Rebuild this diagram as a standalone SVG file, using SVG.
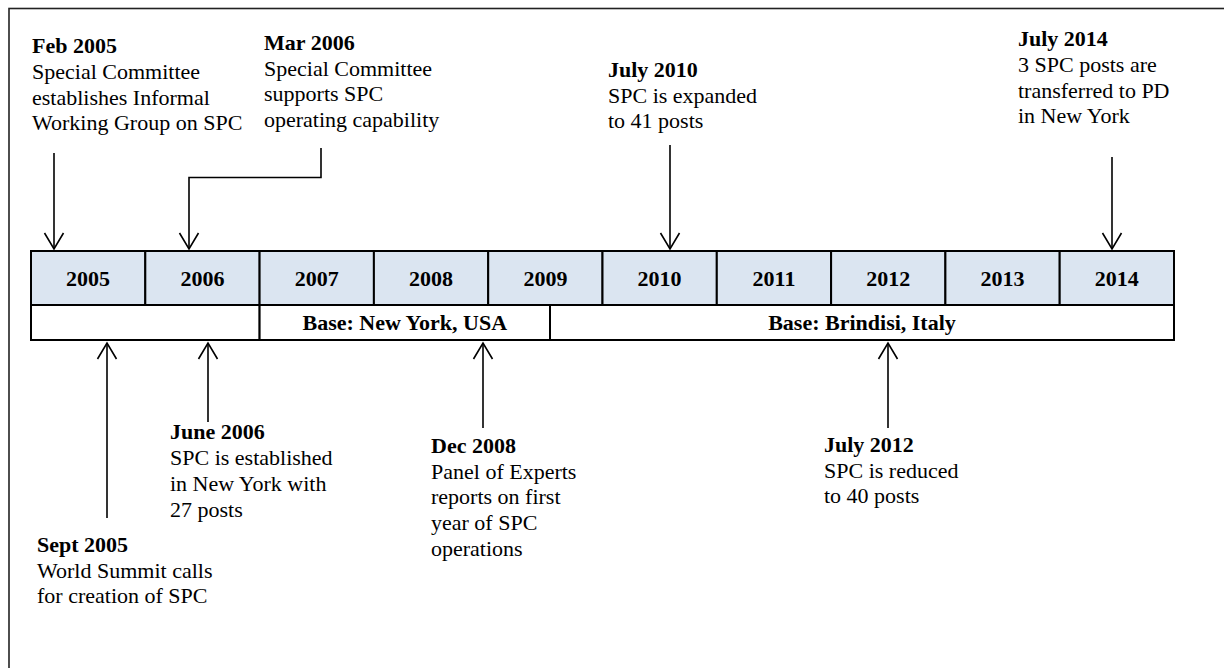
<svg xmlns="http://www.w3.org/2000/svg" width="1224" height="668" viewBox="0 0 1224 668">
<style>
text{font-family:"Liberation Serif","Times New Roman",serif;font-size:22px;fill:#000}
.b{font-weight:bold}
.yr{font-weight:bold;text-anchor:middle}
.cell{fill:#dbe5f1;stroke:#000;stroke-width:2}
.base{fill:#fff;stroke:#000;stroke-width:2}
.arr{fill:none;stroke:#000;stroke-width:1.6;marker-end:url(#ah)}
</style>
<defs>
<marker id="ah" markerUnits="userSpaceOnUse" viewBox="-18 -11 20 22" refX="0" refY="0" markerWidth="20" markerHeight="22" orient="auto" overflow="visible">
<path d="M-16,-9.5 L0,0 L-16,9.5" fill="none" stroke="#000" stroke-width="1.6"/>
</marker>
</defs>
<rect x="9" y="8.5" width="1300" height="800" fill="#fff" stroke="#222" stroke-width="1.6"/>

<g id="timeline">
<g id="y2005"><rect class="cell" x="31" y="251" width="114.3" height="54"/><text class="yr" x="88" y="286">2005</text></g>
<g id="y2006"><rect class="cell" x="145.3" y="251" width="114.3" height="54"/><text class="yr" x="202.5" y="286">2006</text></g>
<g id="y2007"><rect class="cell" x="259.6" y="251" width="114.3" height="54"/><text class="yr" x="316.8" y="286">2007</text></g>
<g id="y2008"><rect class="cell" x="373.9" y="251" width="114.3" height="54"/><text class="yr" x="431" y="286">2008</text></g>
<g id="y2009"><rect class="cell" x="488.2" y="251" width="114.3" height="54"/><text class="yr" x="545.4" y="286">2009</text></g>
<g id="y2010"><rect class="cell" x="602.5" y="251" width="114.3" height="54"/><text class="yr" x="659.6" y="286">2010</text></g>
<g id="y2011"><rect class="cell" x="716.8" y="251" width="114.3" height="54"/><text class="yr" x="774" y="286">2011</text></g>
<g id="y2012"><rect class="cell" x="831.1" y="251" width="114.3" height="54"/><text class="yr" x="888.2" y="286">2012</text></g>
<g id="y2013"><rect class="cell" x="945.4" y="251" width="114.3" height="54"/><text class="yr" x="1002.5" y="286">2013</text></g>
<g id="y2014"><rect class="cell" x="1059.7" y="251" width="114.3" height="54"/><text class="yr" x="1116.8" y="286">2014</text></g>
<g id="base0"><rect class="base" x="31" y="305" width="228.6" height="35"/></g>
<g id="baseNY"><rect class="base" x="259.6" y="305" width="290.4" height="35"/><text class="yr" x="404.8" y="330">Base: New York, USA</text></g>
<g id="baseBR"><rect class="base" x="550" y="305" width="624" height="35"/><text class="yr" x="862" y="330">Base: Brindisi, Italy</text></g>
</g>

<g id="ev-feb2005"><text x="32" y="53"><tspan class="b">Feb 2005</tspan><tspan x="32" y="79">Special Committee</tspan><tspan x="32" y="104.5">establishes Informal</tspan><tspan x="32" y="130">Working Group on SPC</tspan></text></g>
<g id="ev-mar2006"><text x="264" y="50"><tspan class="b">Mar 2006</tspan><tspan x="264" y="75.5">Special Committee</tspan><tspan x="264" y="101">supports SPC</tspan><tspan x="264" y="126.5">operating capability</tspan></text></g>
<g id="ev-jul2010"><text x="608" y="77"><tspan class="b">July 2010</tspan><tspan x="608" y="103">SPC is expanded</tspan><tspan x="608" y="128">to 41 posts</tspan></text></g>
<g id="ev-jul2014"><text x="1018" y="46"><tspan class="b">July 2014</tspan><tspan x="1018" y="72">3 SPC posts are</tspan><tspan x="1018" y="97.5">transferred to PD</tspan><tspan x="1018" y="123">in New York</tspan></text></g>
<g id="ev-sep2005"><text x="37" y="552"><tspan class="b">Sept 2005</tspan><tspan x="37" y="577.5">World Summit calls</tspan><tspan x="37" y="603">for creation of SPC</tspan></text></g>
<g id="ev-jun2006"><text x="170" y="439"><tspan class="b">June 2006</tspan><tspan x="170" y="465">SPC is established</tspan><tspan x="170" y="491">in New York with</tspan><tspan x="170" y="517">27 posts</tspan></text></g>
<g id="ev-dec2008"><text x="431" y="453"><tspan class="b">Dec 2008</tspan><tspan x="431" y="478.5">Panel of Experts</tspan><tspan x="431" y="504">reports on first</tspan><tspan x="431" y="530">year of SPC</tspan><tspan x="431" y="555.5">operations</tspan></text></g>
<g id="ev-jul2012"><text x="824" y="452"><tspan class="b">July 2012</tspan><tspan x="824" y="477.5">SPC is reduced</tspan><tspan x="824" y="503">to 40 posts</tspan></text></g>

<g id="connectors">
<path class="arr" d="M54,153 V249"/>
<path class="arr" d="M321,148 V177.5 H189 V249"/>
<path class="arr" d="M670,145 V249"/>
<path class="arr" d="M1112,157 V249"/>
<path class="arr" d="M107,518 V343"/>
<path class="arr" d="M208,422 V343"/>
<path class="arr" d="M483,428 V343"/>
<path class="arr" d="M888,428 V343"/>
</g>
</svg>
